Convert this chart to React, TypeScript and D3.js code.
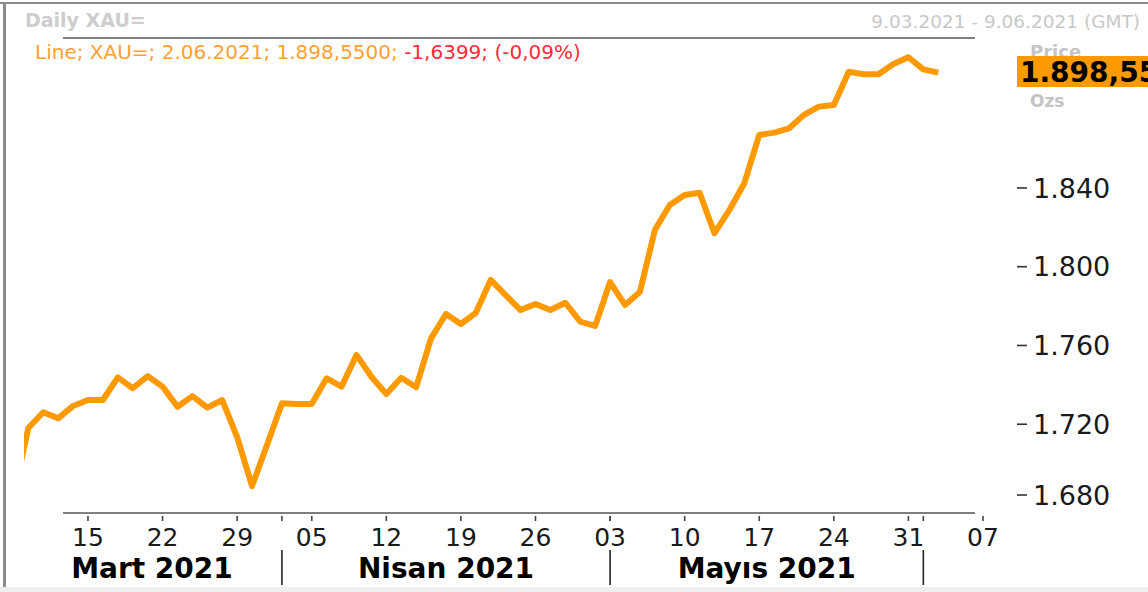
import React, { useEffect, useRef } from "react";
import * as d3 from "d3";

// XAU= daily closes, weekdays 8.03.2021 .. 2.06.2021
const closes = [
  1683.1, 1718.1, 1726.1, 1723.0, 1729.3,
  1732.3, 1732.3, 1743.8, 1738.3, 1744.5,
  1739.1, 1728.9, 1734.3, 1728.4, 1732.3,
  1713.5, 1688.6, 1709.5, 1730.6, 1730.3,
  1730.3, 1743.3, 1739.1, 1755.2, 1744.1,
  1735.4, 1743.6, 1738.8, 1763.6, 1776.0,
  1770.9, 1776.6, 1793.3, 1785.6, 1778.0,
  1781.1, 1778.0, 1781.7, 1772.1, 1769.9,
  1792.2, 1780.6, 1787.2, 1818.6, 1831.3,
  1836.4, 1837.6, 1817.0, 1828.8, 1842.4,
  1866.9, 1868.1, 1870.3, 1877.1, 1881.3,
  1882.1, 1899.0, 1897.7, 1897.7, 1903.0,
  1906.4, 1900.19, 1898.55,
];

const priceTicks = [1680, 1720, 1760, 1800, 1840];
const monthLabels = ["Mart 2021", "Nisan 2021", "Mayıs 2021"];

const titleText = "Daily XAU=";
const rangeText = "9.03.2021 - 9.06.2021 (GMT)";
const infoText = "Line; XAU=; 2.06.2021; 1.898,5500; ";
const changeText = "-1,6399; (-0,09%)";
const lastText = "1.898,55";

const W = 1148, H = 592;
const FONT = "'DejaVu Sans', sans-serif";
const ORANGE = "#ff9900";

const trLocale = d3.formatLocale({ decimal: ",", thousands: ".", grouping: [3], currency: ["", ""] });
const fmtTick = trLocale.format(",");

const App = () => {
  const ref = useRef<SVGSVGElement>(null);

  useEffect(() => {
    document.body.style.margin = "0";
    const svg = d3.select(ref.current);
    svg.selectAll("*").remove();

    // weekday calendar, axis runs on trading days
    const days = d3.timeDay
      .range(new Date(2021, 2, 8), new Date(2021, 5, 8))
      .filter((d) => d.getDay() % 6 !== 0);

    const x = d3.scaleLinear().domain([0, days.length - 1]).range([13.4, 983]);
    const y = d3.scaleLinear().domain([1680, 1900]).range([503, 69.8]);

    svg.append("rect").attr("width", W).attr("height", H).attr("fill", "#fff");

    // frame
    svg.append("rect").attr("x", 0).attr("y", 2).attr("width", W).attr("height", 2).attr("fill", "#8c8c8c");
    svg.append("rect").attr("x", 3).attr("y", 2).attr("width", 3).attr("height", 585).attr("fill", "#8c8c8c");
    svg.append("rect").attr("x", 0).attr("y", 587).attr("width", W).attr("height", 5).attr("fill", "#efefef");

    // header
    svg.append("text").attr("x", 25).attr("y", 27).style("font", `bold 19px ${FONT}`)
      .attr("fill", "#cdcdcd").text(titleText);
    svg.append("text").attr("x", 1140).attr("y", 28).attr("text-anchor", "end")
      .style("font", `18.5px ${FONT}`).attr("fill", "#c8c8c8").text(rangeText);
    svg.append("line").attr("x1", 63).attr("x2", 975).attr("y1", 38).attr("y2", 38)
      .attr("stroke", "#7f7f7f").attr("stroke-width", 2);

    const info = svg.append("text").attr("x", 35).attr("y", 59).style("font", `20px ${FONT}`);
    info.append("tspan").attr("fill", "#ffa033").text(infoText);
    info.append("tspan").attr("fill", "#ff2a3a").text(changeText);

    // clipped line
    svg.append("clipPath").attr("id", "plotClip").append("rect")
      .attr("x", 24).attr("y", 40).attr("width", 960).attr("height", 470);

    const line = d3.line<number>().x((d, i) => x(i)).y((d) => y(d));
    svg.append("path").datum(closes).attr("clip-path", "url(#plotClip)")
      .attr("d", line).attr("fill", "none").attr("stroke", ORANGE)
      .attr("stroke-width", 6).attr("stroke-linejoin", "round");

    // price axis
    const yAxis = svg.append("g");
    priceTicks.forEach((v) => {
      const ty = Math.min(y(v), 495);
      yAxis.append("line").attr("x1", 1017).attr("x2", 1027).attr("y1", ty).attr("y2", ty)
        .attr("stroke", "#333").attr("stroke-width", 1.6);
      yAxis.append("text").attr("x", 1033).attr("y", ty).attr("dy", "0.36em")
        .style("font", `27px ${FONT}`).attr("fill", "#1a1a1a").text(fmtTick(v));
    });

    svg.append("text").attr("x", 1030).attr("y", 58).style("font", `bold 18px ${FONT}`)
      .attr("fill", "#c4c4c4").text("Price");
    svg.append("rect").attr("x", 1017).attr("y", 56).attr("width", W - 1017).attr("height", 31)
      .attr("fill", ORANGE);
    svg.append("text").attr("x", 1020).attr("y", 82).style("font", `bold 28px ${FONT}`)
      .attr("fill", "#000").text(lastText);
    svg.append("text").attr("x", 1030).attr("y", 107).style("font", `bold 17px ${FONT}`)
      .attr("fill", "#c4c4c4").text("Ozs");

    // time axis
    svg.append("line").attr("x1", 63).attr("x2", 975).attr("y1", 513).attr("y2", 513)
      .attr("stroke", "#7f7f7f").attr("stroke-width", 2);

    const mondays = days.map((d, i) => ({ d, i })).filter((o) => o.i > 0 && o.d.getDay() === 1);
    const monthStarts = days.map((d, i) => ({ d, i }))
      .filter((o) => o.i > 0 && o.d.getMonth() !== days[o.i - 1].getMonth());

    const xAxis = svg.append("g");
    [...mondays, ...monthStarts].forEach((o) => {
      xAxis.append("line").attr("x1", x(o.i)).attr("x2", x(o.i)).attr("y1", 516).attr("y2", 521)
        .attr("stroke", "#444").attr("stroke-width", 1.6);
    });
    mondays.forEach((o) => {
      xAxis.append("text").attr("x", x(o.i)).attr("y", 546).attr("text-anchor", "middle")
        .style("font", `25px ${FONT}`).attr("fill", "#1a1a1a").text(d3.timeFormat("%d")(o.d));
    });

    monthStarts.forEach((o) => {
      xAxis.append("line").attr("x1", x(o.i)).attr("x2", x(o.i)).attr("y1", 550).attr("y2", 585)
        .attr("stroke", "#222").attr("stroke-width", 1.6);
    });

    const bounds = [22, ...monthStarts.map((o) => x(o.i))];
    monthLabels.forEach((m, k) => {
      xAxis.append("text").attr("x", (bounds[k] + bounds[k + 1]) / 2).attr("y", 578)
        .attr("text-anchor", "middle").style("font", `bold 28px ${FONT}`)
        .attr("fill", "#000").text(m);
    });
  }, []);

  return <svg ref={ref} width={W} height={H} style={{ display: "block" }}></svg>;
};

export default App;
